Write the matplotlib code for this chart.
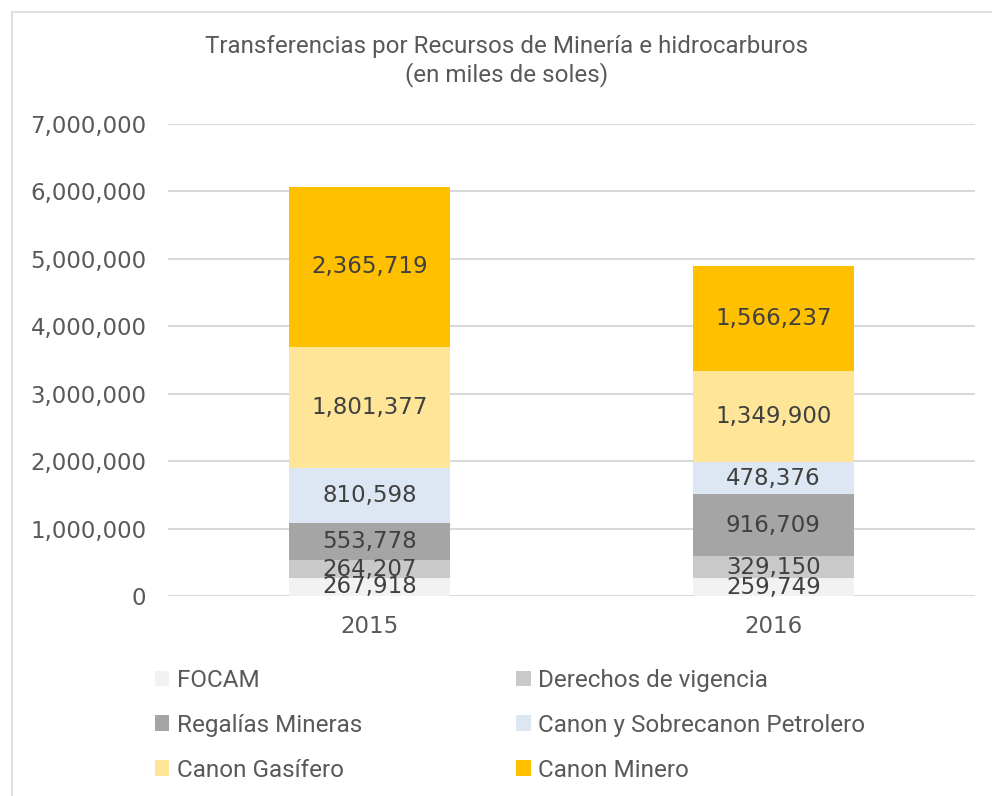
import matplotlib.pyplot as plt
from matplotlib.patches import Rectangle
import numpy as np

years = ["2015", "2016"]
series = ["FOCAM", "Derechos de vigencia", "Regalías Mineras",
          "Canon y Sobrecanon Petrolero", "Canon Gasífero", "Canon Minero"]
focam = [267918, 259749]
derechos = [264207, 329150]
regalias = [553778, 916709]
petrolero = [810598, 478376]
gasifero = [1801377, 1349900]
minero = [2365719, 1566237]
colors = ["#F2F2F2", "#C9C9C9", "#A5A5A5", "#DDE7F3", "#FFE598", "#FFC000"]

txt = "#595959"
narrow = ["Roboto", "DejaVu Sans"]

fig = plt.figure(figsize=(9.92, 7.96), dpi=100)
fig.patches.append(Rectangle((12/992, -0.1), 1.2, 1 - 12/796 + 0.1,
                             transform=fig.transFigure, fill=False,
                             edgecolor="#D9D9D9", lw=1.2))
ax = fig.add_axes([168/992, 1 - 596/796, (975-168)/992, (596-124)/796])

x = np.arange(len(years))
bottom = np.zeros(len(years))
handles = []
for name, vals, c in zip(series, [focam, derechos, regalias, petrolero, gasifero, minero], colors):
    b = ax.bar(x, vals, 0.4, bottom=bottom, color=c, label=name, zorder=3)
    ax.bar_label(b, labels=[f"{v:,}" for v in vals], label_type="center",
                 fontsize=16.5, color="#404040", zorder=4)
    handles.append(b)
    bottom += np.array(vals)

ax.set_xlim(-0.5, 1.5)
ax.set_ylim(0, 7000000)
ax.set_yticks(np.arange(0, 7000001, 1000000))
ax.set_yticklabels([f"{v:,}" for v in range(0, 7000001, 1000000)])
ax.set_xticks(x)
ax.set_xticklabels(years)
ax.tick_params(axis="y", length=0, pad=15.5, labelsize=16.5, labelcolor=txt)
ax.tick_params(axis="x", length=0, pad=14, labelsize=16.5, labelcolor=txt)
ax.grid(axis="y", color="#D9D9D9", lw=1.5, zorder=0)
for s in ax.spines.values():
    s.set_visible(False)

fig.text(507/992, 1 - 47/796, "Transferencias por Recursos de Minería e hidrocarburos",
         ha="center", va="center", fontsize=17.4, color=txt, family=narrow)
fig.text(507/992, 1 - 75/796, "(en miles de soles)",
         ha="center", va="center", fontsize=17.4, color=txt, family=narrow)

order = [0, 2, 4, 1, 3, 5]
leg = fig.legend([handles[i] for i in order], [series[i] for i in order],
                 ncol=2, loc="upper left", bbox_to_anchor=(133/992, 1 - 647/796),
                 frameon=False, handlelength=0.6, handleheight=0.6,
                 handletextpad=0.3, columnspacing=6.35, labelspacing=0.9,
                 prop={"family": narrow, "size": 17.5})
for t in leg.get_texts():
    t.set_color(txt)

fig.savefig("out.png", dpi=100)
